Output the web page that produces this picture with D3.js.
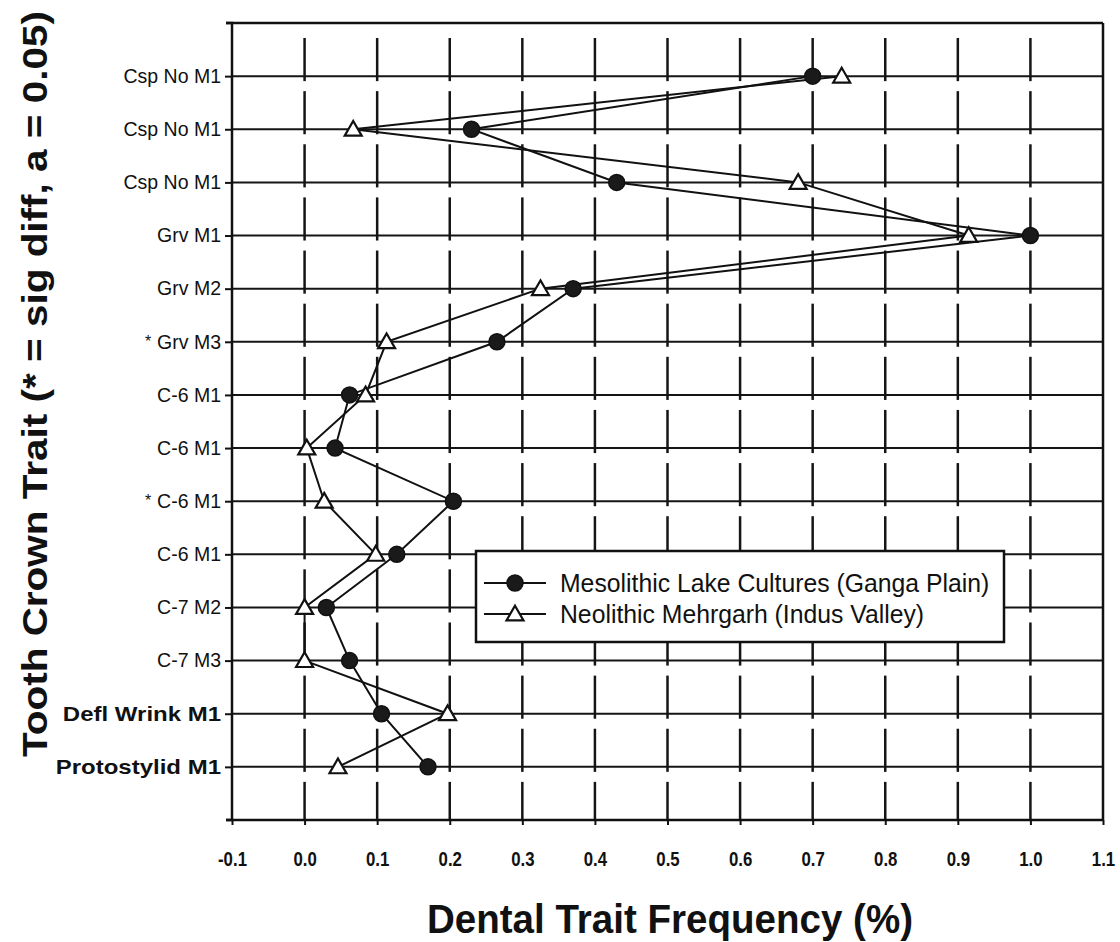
<!DOCTYPE html>
<html>
<head>
<meta charset="utf-8">
<script src="https://cdn.jsdelivr.net/npm/d3@7"></script>
<style>
  body { margin: 0; background: #fff; }
  svg { display: block; }
</style>
</head>
<body>
<svg id="chart"></svg>
<script>
var svg_width = 1120
var svg_height = 942

// rows from top to bottom
var traits = [
    "Csp No M1", "Csp No M1", "Csp No M1",
    "Grv M1", "Grv M2", "Grv M3",
    "C-6 M1", "C-6 M1", "C-6 M1", "C-6 M1",
    "C-7 M2", "C-7 M3",
    "Defl Wrink M1", "Protostylid M1"
]
var significant = [0, 0, 0, 0, 0, 1, 0, 0, 1, 0, 0, 0, 0, 0]
var boldLabel = [0, 0, 0, 0, 0, 0, 0, 0, 0, 0, 0, 0, 1, 1]

var mesolithic = [0.70, 0.23, 0.43, 1.00, 0.37, 0.265, 0.062, 0.042, 0.205, 0.127, 0.03, 0.062, 0.106, 0.17]
var neolithic  = [0.74, 0.067, 0.68, 0.915, 0.325, 0.113, 0.084, 0.003, 0.027, 0.098, 0.0, 0.0, 0.197, 0.046]

var xTicks = [-0.1, 0.0, 0.1, 0.2, 0.3, 0.4, 0.5, 0.6, 0.7, 0.8, 0.9, 1.0, 1.1]

var seriesNames = [
    "Mesolithic Lake Cultures (Ganga Plain)",
    "Neolithic Mehrgarh (Indus Valley)"
]

var plotLeft = 232, plotRight = 1103, plotTop = 23, plotBottom = 820
var sans = "'Liberation Sans', Arial, sans-serif"
var ink = "#111"

var svg = d3.select("#chart")
    .attr("width", svg_width)
    .attr("height", svg_height)

svg.append("rect")
    .attr("width", svg_width)
    .attr("height", svg_height)
    .attr("fill", "#fff")

// squeeze or stretch text horizontally to match the face of the original
function scaleText(sel, factor) {
    sel.each(function() {
        var len = this.getComputedTextLength()
        d3.select(this)
            .attr("textLength", len * factor)
            .attr("lengthAdjust", "spacingAndGlyphs")
    })
}

// SCALES
var xScale = d3.scaleLinear()
    .domain([-0.1, 1.1])
    .range([plotLeft, plotRight])

var rowIdx = d3.range(traits.length)
var yScale = d3.scalePoint()
    .domain(rowIdx)
    .range([plotTop, plotBottom])
    .padding(1)
var step = yScale.step()

// GRID
var grid = svg.append("g")

grid.selectAll("line.h")
    .data(rowIdx)
    .enter()
    .append("line")
      .attr("x1", plotLeft)
      .attr("x2", plotRight)
      .attr("y1", function(d) { return yScale(d); })
      .attr("y2", function(d) { return yScale(d); })
      .attr("stroke", "#151515")
      .attr("stroke-width", 2)

// broken vertical lines, one dash per row band
var bands = d3.range(traits.length + 1)
var innerTicks = xTicks.slice(1, -1)
innerTicks.forEach(function(t) {
    grid.selectAll(null)
        .data(bands)
        .enter()
        .append("line")
          .attr("x1", xScale(t))
          .attr("x2", xScale(t))
          .attr("y1", function(k) { return plotTop + k * step + 15; })
          .attr("y2", function(k) { return Math.min(plotBottom, plotTop + (k + 1) * step + 5); })
          .attr("stroke", "#151515")
          .attr("stroke-width", 2.5)
})

// frame
svg.append("line")
    .attr("x1", plotLeft - 6).attr("x2", plotRight)
    .attr("y1", plotTop).attr("y2", plotTop)
    .attr("stroke", ink).attr("stroke-width", 2.5)
svg.append("line")
    .attr("x1", plotRight).attr("x2", plotRight)
    .attr("y1", plotTop).attr("y2", plotBottom)
    .attr("stroke", ink).attr("stroke-width", 2.5)

// AXES
var yAxis = d3.axisLeft(yScale)
    .tickSize(7)
    .tickPadding(4)
    .tickFormat(function(d) { return traits[d]; })

var gy = svg.append("g")
    .attr("transform", "translate(" + plotLeft + ",0)")
    .call(yAxis)
gy.select(".domain").attr("stroke", ink).attr("stroke-width", 2.5)
    .attr("d", "M-6," + plotTop + "H0V" + plotBottom + "H-6")
gy.selectAll(".tick line").attr("stroke", ink).attr("stroke-width", 2)
gy.selectAll(".tick text")
    .attr("fill", ink)
    .attr("font-family", sans)
    .attr("font-size", function(d) { return boldLabel[d] ? "20.5px" : "19.5px"; })
    .attr("font-weight", function(d) { return boldLabel[d] ? "bold" : "normal"; })
gy.selectAll(".tick text")
    .filter(function(d) { return boldLabel[d]; })
    .call(scaleText, 1.17)

// asterisks for significant differences
svg.selectAll("text.sig")
    .data(rowIdx.filter(function(d) { return significant[d]; }))
    .enter()
    .append("text")
      .attr("x", 148)
      .attr("y", function(d) { return yScale(d); })
      .attr("dy", "0.3em")
      .attr("text-anchor", "middle")
      .attr("font-family", sans)
      .attr("font-size", "16px")
      .attr("fill", ink)
      .text("*")

var xAxis = d3.axisBottom(xScale)
    .tickValues(xTicks)
    .tickSize(5)
    .tickPadding(26)
    .tickFormat(function(d) { return d3.format(".1f")(d).replace("\u2212", "-"); })

var gx = svg.append("g")
    .attr("transform", "translate(0," + plotBottom + ")")
    .call(xAxis)
gx.select(".domain").attr("stroke", ink).attr("stroke-width", 2.5)
    .attr("d", "M" + (plotLeft - 6) + ",0H" + plotRight)
gx.selectAll(".tick line").attr("stroke", ink).attr("stroke-width", 2)
gx.selectAll(".tick text")
    .attr("fill", ink)
    .attr("font-family", sans)
    .attr("font-weight", "bold")
    .attr("font-size", "21px")
    .call(scaleText, 0.8)

// SERIES
var line = d3.line()
    .x(function(d) { return xScale(d.v); })
    .y(function(d) { return yScale(d.i); })

function toPoints(values) {
    return values.map(function(v, i) { return { i: i, v: v }; })
}

var triangle = d3.symbol().type(d3.symbolTriangle).size(125)

var series = [
    { name: seriesNames[0], pts: toPoints(mesolithic), marker: "circle" },
    { name: seriesNames[1], pts: toPoints(neolithic), marker: "triangle" }
]

series.forEach(function(s) {
    svg.append("path")
        .datum(s.pts)
        .attr("d", line)
        .attr("fill", "none")
        .attr("stroke", ink)
        .attr("stroke-width", 2)
})

function drawMarker(sel, marker) {
    if (marker === "circle") {
        sel.append("circle")
            .attr("r", 8)
            .attr("fill", "#1a1a1a")
            .attr("stroke", ink)
            .attr("stroke-width", 1.5)
    } else {
        sel.append("path")
            .attr("d", triangle)
            .attr("transform", "translate(0,1.5)")
            .attr("fill", "#fff")
            .attr("stroke", ink)
            .attr("stroke-width", 2.2)
    }
}

series.forEach(function(s) {
    var g = svg.append("g")
        .selectAll("g")
        .data(s.pts)
        .enter()
        .append("g")
          .attr("transform", function(d) {
              return "translate(" + xScale(d.v) + "," + yScale(d.i) + ")";
          })
    drawMarker(g, s.marker)
})

// LEGEND
var legend = svg.append("g")
    .attr("transform", "translate(476,551)")

legend.append("rect")
    .attr("width", 528)
    .attr("height", 91)
    .attr("fill", "#fff")
    .attr("stroke", ink)
    .attr("stroke-width", 2.5)

series.forEach(function(s, i) {
    var y = 32 + i * 31
    legend.append("line")
        .attr("x1", 8).attr("x2", 70)
        .attr("y1", y).attr("y2", y)
        .attr("stroke", ink)
        .attr("stroke-width", 2)
    var m = legend.append("g").attr("transform", "translate(39," + y + ")")
    drawMarker(m, s.marker)
    legend.append("text")
        .attr("x", 84)
        .attr("y", y)
        .attr("dy", "0.36em")
        .attr("font-family", sans)
        .attr("font-size", "25px")
        .attr("fill", ink)
        .text(s.name)
        .call(scaleText, 0.99)
})

// AXIS TITLES
svg.append("text")
    .attr("x", 670)
    .attr("y", 933)
    .attr("text-anchor", "middle")
    .attr("font-family", sans)
    .attr("font-weight", "bold")
    .attr("font-size", "40px")
    .attr("fill", ink)
    .text("Dental Trait Frequency (%)")
    .attr("textLength", 486)
    .attr("lengthAdjust", "spacingAndGlyphs")

svg.append("text")
    .attr("transform", "translate(47,384) rotate(-90)")
    .attr("text-anchor", "middle")
    .attr("font-family", sans)
    .attr("font-weight", "bold")
    .attr("font-size", "35px")
    .attr("fill", ink)
    .text("Tooth Crown Trait (* = sig diff, a = 0.05)")
    .attr("textLength", 746)
    .attr("lengthAdjust", "spacingAndGlyphs")
</script>
</body>
</html>
